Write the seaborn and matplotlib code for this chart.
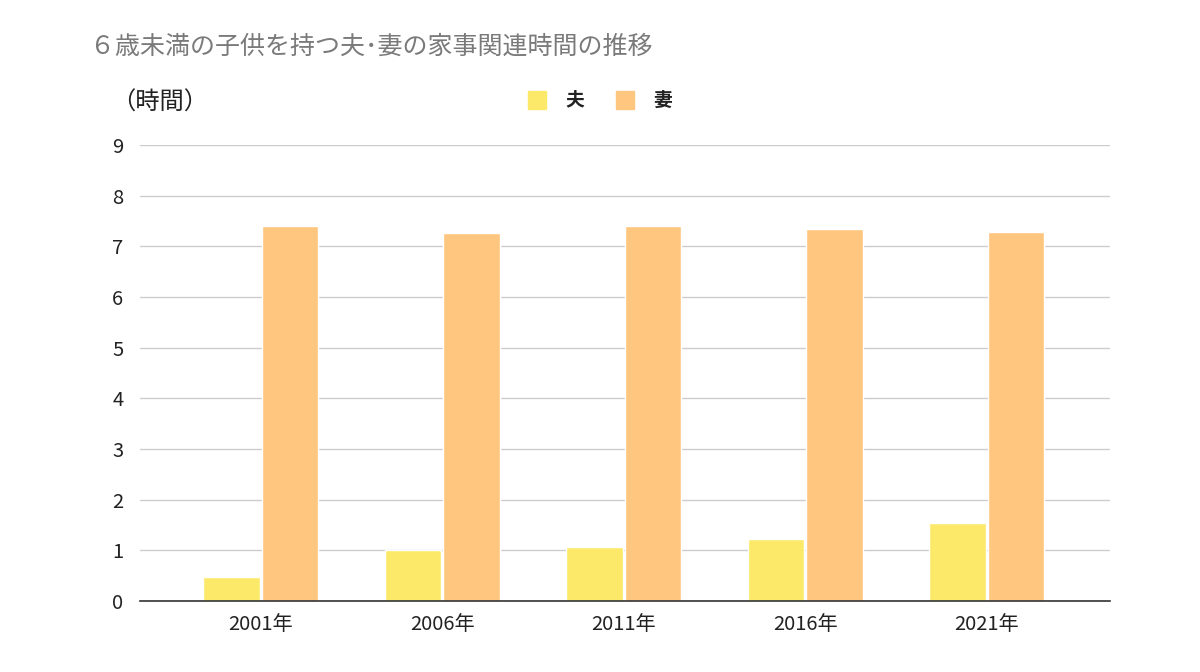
import matplotlib
matplotlib.use("Agg")
import matplotlib.pyplot as plt
import seaborn as sns
import pandas as pd

sns.set_theme(style="white")
plt.rcParams['font.family'] = ['Noto Sans CJK JP', 'DejaVu Sans']

# data (hours, as shown on the chart)
years = ["2001年", "2006年", "2011年", "2016年", "2021年"]
husband = [0.48, 1.00, 1.07, 1.23, 1.54]
wife = [7.41, 7.27, 7.41, 7.34, 7.28]
series = ["夫", "妻"]
colors = ["#FCE96A", "#FFC67F"]

df = pd.DataFrame({
    "year": years * 2,
    "value": husband + wife,
    "who": [series[0]] * len(years) + [series[1]] * len(years),
})

fig = plt.figure(figsize=(12, 6.72), dpi=100)
ax = fig.add_axes([140 / 1200, 1 - 601 / 672, 970 / 1200, 456 / 672])

sns.barplot(data=df, x="year", y="value", hue="who", palette=colors,
            width=0.645, gap=0.035, ax=ax, legend=False, saturation=1)

ax.set_xlim(-0.665, 4.68)
ax.set_ylim(0, 9)
ax.set_yticks(range(0, 10))
ax.yaxis.grid(True, color="#CCCCCC", linewidth=1)
ax.set_axisbelow(True)
ax.set_xlabel("")
ax.set_ylabel("")
for s in ["top", "right", "left"]:
    ax.spines[s].set_visible(False)
ax.spines["bottom"].set_color("#333333")
ax.spines["bottom"].set_linewidth(1.2)
ax.tick_params(axis="both", length=0, labelsize=14.5, colors="#222222")
ax.tick_params(axis="y", pad=12)
ax.tick_params(axis="x", pad=9)

fig.text(90 / 1200, 1 - 47 / 672, "６歳未満の子供を持つ夫･妻の家事関連時間の推移",
         fontsize=18, color="#7a7a7a", va="center", ha="left")
fig.text(111 / 1200, 1 - 103 / 672, "（時間）", fontsize=17.5,
         color="#222222", va="center", ha="left")

# legend
for i, (name, c) in enumerate(zip(series, colors)):
    x0 = 528 + i * 88
    fig.patches.append(plt.Rectangle((x0 / 1200, 1 - 109 / 672), 18 / 1200, 18 / 672,
                                     transform=fig.transFigure, color=c))
    fig.text((x0 + 37) / 1200, 1 - 100 / 672, name, fontsize=13.5,
             color="#222222", va="center", ha="left", fontweight="bold")

fig.savefig("out.png", dpi=100)
